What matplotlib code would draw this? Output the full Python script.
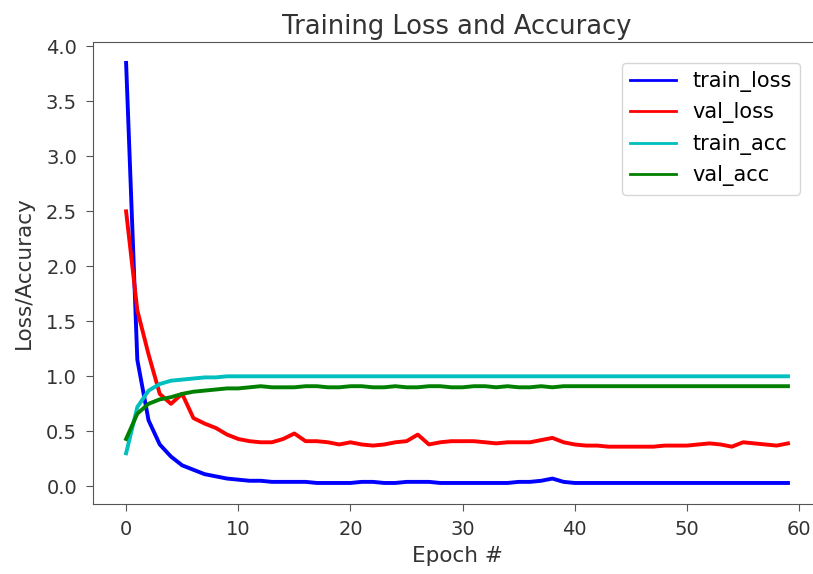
import numpy as np
import matplotlib
matplotlib.use("Agg")
import matplotlib.pyplot as plt

# values, one per epoch
epochs = np.arange(60)

train_loss = [3.85, 1.15, 0.60, 0.38, 0.27, 0.19, 0.15, 0.11, 0.09, 0.07,
              0.06, 0.05, 0.05, 0.04, 0.04, 0.04, 0.04, 0.03, 0.03, 0.03,
              0.03, 0.04, 0.04, 0.03, 0.03, 0.04, 0.04, 0.04, 0.03, 0.03,
              0.03, 0.03, 0.03, 0.03, 0.03, 0.04, 0.04, 0.05, 0.07, 0.04,
              0.03, 0.03, 0.03, 0.03, 0.03, 0.03, 0.03, 0.03, 0.03, 0.03,
              0.03, 0.03, 0.03, 0.03, 0.03, 0.03, 0.03, 0.03, 0.03, 0.03]

val_loss = [2.50, 1.60, 1.20, 0.84, 0.75, 0.84, 0.62, 0.57, 0.53, 0.47,
            0.43, 0.41, 0.40, 0.40, 0.43, 0.48, 0.41, 0.41, 0.40, 0.38,
            0.40, 0.38, 0.37, 0.38, 0.40, 0.41, 0.47, 0.38, 0.40, 0.41,
            0.41, 0.41, 0.40, 0.39, 0.40, 0.40, 0.40, 0.42, 0.44, 0.40,
            0.38, 0.37, 0.37, 0.36, 0.36, 0.36, 0.36, 0.36, 0.37, 0.37,
            0.37, 0.38, 0.39, 0.38, 0.36, 0.40, 0.39, 0.38, 0.37, 0.39]

train_acc = [0.30, 0.72, 0.87, 0.93, 0.96, 0.97, 0.98, 0.99, 0.99, 1.00,
             1.00, 1.00, 1.00, 1.00, 1.00, 1.00, 1.00, 1.00, 1.00, 1.00,
             1.00, 1.00, 1.00, 1.00, 1.00, 1.00, 1.00, 1.00, 1.00, 1.00,
             1.00, 1.00, 1.00, 1.00, 1.00, 1.00, 1.00, 1.00, 1.00, 1.00,
             1.00, 1.00, 1.00, 1.00, 1.00, 1.00, 1.00, 1.00, 1.00, 1.00,
             1.00, 1.00, 1.00, 1.00, 1.00, 1.00, 1.00, 1.00, 1.00, 1.00]

val_acc = [0.43, 0.66, 0.75, 0.79, 0.81, 0.84, 0.86, 0.87, 0.88, 0.89,
           0.89, 0.90, 0.91, 0.90, 0.90, 0.90, 0.91, 0.91, 0.90, 0.90,
           0.91, 0.91, 0.90, 0.90, 0.91, 0.90, 0.90, 0.91, 0.91, 0.90,
           0.90, 0.91, 0.91, 0.90, 0.91, 0.90, 0.90, 0.91, 0.90, 0.91,
           0.91, 0.91, 0.91, 0.91, 0.91, 0.91, 0.91, 0.91, 0.91, 0.91,
           0.91, 0.91, 0.91, 0.91, 0.91, 0.91, 0.91, 0.91, 0.91, 0.91]

fig = plt.figure(figsize=(8.13, 5.74), dpi=100)
# right edge of the axes runs a little past the figure, as in the cropped original
ax = fig.add_axes([0.1144, 0.122, 0.8955, 0.805])

ax.plot(epochs, train_loss, color='b', lw=2.8, label='train_loss')
ax.plot(epochs, val_loss, color='r', lw=2.8, label='val_loss')
ax.plot(epochs, train_acc, color='c', lw=2.8, label='train_acc')
ax.plot(epochs, val_acc, color='g', lw=2.8, label='val_acc')

ax.set_title('Training Loss and Accuracy', fontsize=18.5, color='#333333')
ax.set_xlabel('Epoch #', fontsize=15.5, color='#333333', labelpad=5)
ax.set_ylabel('Loss/Accuracy', fontsize=15.5, color='#333333', labelpad=9)
ax.set_xticks([0, 10, 20, 30, 40, 50, 60])
ax.set_yticks(np.arange(0, 4.01, 0.5))
ax.tick_params(labelsize=14, labelcolor='#333333', color='#555555',
               length=5, pad=6.5)
for s in ax.spines.values():
    s.set_color('#555555')

leg = ax.legend(loc='upper right', fontsize=15, handlelength=2.2,
                borderaxespad=1.0)
for h in leg.get_lines():
    h.set_linewidth(2.0)

fig.savefig('out.png', dpi=100)
